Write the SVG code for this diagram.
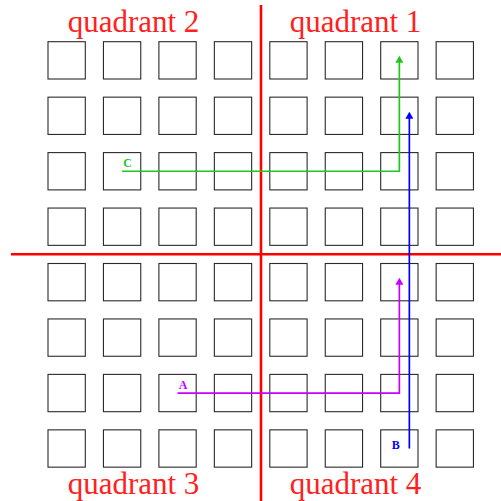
<svg xmlns="http://www.w3.org/2000/svg" width="501" height="501" viewBox="0 0 501 501">
<style>
.sq{fill:#fff;stroke:#2a2a2a;stroke-width:1.1}
.axis{stroke:#ff0000;stroke-width:2.6;fill:none}
.q{font-family:"Liberation Serif",serif;font-size:31px;fill:#ff2020;text-anchor:middle}
.lbl{font-family:"Liberation Serif",serif;font-size:12px;font-weight:bold;text-anchor:middle}
.conn{fill:none;stroke-width:1.7}
</style>
<defs>
<rect id="s" class="sq" width="37.3" height="37.3"/>
<marker id="ag" markerUnits="userSpaceOnUse" viewBox="0 0 7 8" refX="4" refY="4" markerWidth="7" markerHeight="8" orient="auto"><path d="M0,0 L7,4 L0,8 z" fill="#1ec81e"/></marker>
<marker id="ab" markerUnits="userSpaceOnUse" viewBox="0 0 7 8" refX="4" refY="4" markerWidth="7" markerHeight="8" orient="auto"><path d="M0,0 L7,4 L0,8 z" fill="#0000ff"/></marker>
<marker id="am" markerUnits="userSpaceOnUse" viewBox="0 0 7 8" refX="4" refY="4" markerWidth="7" markerHeight="8" orient="auto"><path d="M0,0 L7,4 L0,8 z" fill="#c800ff"/></marker>
</defs>
<g id="grid">
<g id="r0"><use href="#s" x="48" y="41.7"/><use href="#s" x="103.45" y="41.7"/><use href="#s" x="158.9" y="41.7"/><use href="#s" x="214.35" y="41.7"/><use href="#s" x="269.8" y="41.7"/><use href="#s" x="325.25" y="41.7"/><use href="#s" x="380.7" y="41.7"/><use href="#s" x="436.15" y="41.7"/></g>
<g id="r1"><use href="#s" x="48" y="97.15"/><use href="#s" x="103.45" y="97.15"/><use href="#s" x="158.9" y="97.15"/><use href="#s" x="214.35" y="97.15"/><use href="#s" x="269.8" y="97.15"/><use href="#s" x="325.25" y="97.15"/><use href="#s" x="380.7" y="97.15"/><use href="#s" x="436.15" y="97.15"/></g>
<g id="r2"><use href="#s" x="48" y="152.6"/><use href="#s" x="103.45" y="152.6"/><use href="#s" x="158.9" y="152.6"/><use href="#s" x="214.35" y="152.6"/><use href="#s" x="269.8" y="152.6"/><use href="#s" x="325.25" y="152.6"/><use href="#s" x="380.7" y="152.6"/><use href="#s" x="436.15" y="152.6"/></g>
<g id="r3"><use href="#s" x="48" y="208.05"/><use href="#s" x="103.45" y="208.05"/><use href="#s" x="158.9" y="208.05"/><use href="#s" x="214.35" y="208.05"/><use href="#s" x="269.8" y="208.05"/><use href="#s" x="325.25" y="208.05"/><use href="#s" x="380.7" y="208.05"/><use href="#s" x="436.15" y="208.05"/></g>
<g id="r4"><use href="#s" x="48" y="263.5"/><use href="#s" x="103.45" y="263.5"/><use href="#s" x="158.9" y="263.5"/><use href="#s" x="214.35" y="263.5"/><use href="#s" x="269.8" y="263.5"/><use href="#s" x="325.25" y="263.5"/><use href="#s" x="380.7" y="263.5"/><use href="#s" x="436.15" y="263.5"/></g>
<g id="r5"><use href="#s" x="48" y="318.95"/><use href="#s" x="103.45" y="318.95"/><use href="#s" x="158.9" y="318.95"/><use href="#s" x="214.35" y="318.95"/><use href="#s" x="269.8" y="318.95"/><use href="#s" x="325.25" y="318.95"/><use href="#s" x="380.7" y="318.95"/><use href="#s" x="436.15" y="318.95"/></g>
<g id="r6"><use href="#s" x="48" y="374.4"/><use href="#s" x="103.45" y="374.4"/><use href="#s" x="158.9" y="374.4"/><use href="#s" x="214.35" y="374.4"/><use href="#s" x="269.8" y="374.4"/><use href="#s" x="325.25" y="374.4"/><use href="#s" x="380.7" y="374.4"/><use href="#s" x="436.15" y="374.4"/></g>
<g id="r7"><use href="#s" x="48" y="429.85"/><use href="#s" x="103.45" y="429.85"/><use href="#s" x="158.9" y="429.85"/><use href="#s" x="214.35" y="429.85"/><use href="#s" x="269.8" y="429.85"/><use href="#s" x="325.25" y="429.85"/><use href="#s" x="380.7" y="429.85"/><use href="#s" x="436.15" y="429.85"/></g>
</g>
<g id="axes">
<line class="axis" x1="261" y1="5" x2="261" y2="501"/>
<line class="axis" x1="11" y1="254.3" x2="501" y2="254.3"/>
</g>
<g id="quadrant-labels">
<text class="q" x="133.5" y="32">quadrant 2</text>
<text class="q" x="355.5" y="32">quadrant 1</text>
<text class="q" x="133.5" y="494">quadrant 3</text>
<text class="q" x="355.5" y="494">quadrant 4</text>
</g>
<g id="connectors">
<path class="conn" stroke="#1ec81e" d="M122.1,171.25 H399.35 V58.7" marker-end="url(#ag)"/>
<path class="conn" stroke="#0000ff" d="M409.35,448.5 V114.7" marker-end="url(#ab)"/>
<path class="conn" stroke="#c800ff" d="M177.55,393.05 H399.35 V280.7" marker-end="url(#am)"/>
</g>
<g id="node-C"><text class="lbl" x="127.7" y="167" fill="#1ec81e">C</text></g>
<g id="node-A"><text class="lbl" x="183" y="389" fill="#c800ff">A</text></g>
<g id="node-B"><text class="lbl" x="395.7" y="449" fill="#0000ff">B</text></g>
</svg>
